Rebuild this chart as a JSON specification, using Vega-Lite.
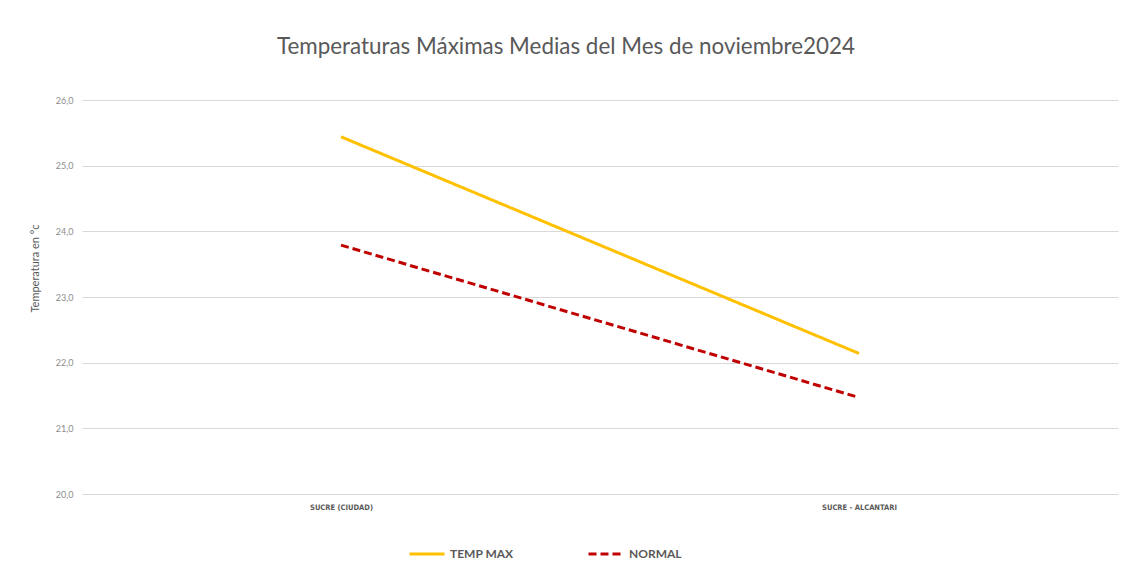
{
  "$schema": "https://vega.github.io/schema/vega-lite/v6.json",
  "width": 1036,
  "height": 394,
  "autosize": {"type": "none"},
  "padding": {"left": 82, "top": 100, "right": 15, "bottom": 75},
  "background": "white",
  "title": {
    "text": "Temperaturas Máximas Medias del Mes de noviembre2024",
    "font": "Lato",
    "fontSize": 22.4,
    "fontWeight": "normal",
    "color": "#595959",
    "anchor": "middle",
    "dx": -34,
    "offset": 38
  },
  "data": {
    "values": [
      {"estacion": "SUCRE (CIUDAD)", "serie": "TEMP MAX", "valor": 25.44},
      {"estacion": "SUCRE - ALCANTARI", "serie": "TEMP MAX", "valor": 22.14},
      {"estacion": "SUCRE (CIUDAD)", "serie": "NORMAL", "valor": 23.79},
      {"estacion": "SUCRE - ALCANTARI", "serie": "NORMAL", "valor": 21.47}
    ]
  },
  "mark": {"type": "line", "strokeWidth": 3, "strokeCap": "butt"},
  "encoding": {
    "x": {
      "field": "estacion",
      "type": "nominal",
      "sort": null,
      "scale": {"type": "point", "padding": 0.5},
      "axis": {
        "title": null,
        "labelAngle": 0,
        "domain": false,
        "ticks": false,
        "grid": false,
        "labelFont": "DejaVu Sans Condensed",
        "labelFontSize": 7.5,
        "labelFontWeight": "bold",
        "labelColor": "#595959",
        "labelPadding": 9
      }
    },
    "y": {
      "field": "valor",
      "type": "quantitative",
      "scale": {"domain": [20, 26], "nice": false, "zero": false},
      "axis": {
        "title": "Temperatura en °c",
        "titleFont": "Lato",
        "titleFontSize": 11,
        "titleFontWeight": "normal",
        "titleColor": "#595959",
        "titleX": -53,
        "titleY": 168,
        "titleAngle": -90,
        "titleAlign": "center",
        "titleBaseline": "top",
        "values": [20, 21, 22, 23, 24, 25, 26],
        "format": ".1f",
        "labelFont": "Lato",
        "labelFontSize": 9,
        "labelColor": "#8c8c8c",
        "labelPadding": 9,
        "domain": false,
        "ticks": false,
        "grid": true,
        "gridColor": "#d9d9d9",
        "gridWidth": 1
      }
    },
    "color": {
      "field": "serie",
      "type": "nominal",
      "scale": {"domain": ["TEMP MAX", "NORMAL"], "range": ["#FFC000", "#C00000"]},
      "legend": {
        "title": null,
        "orient": "none",
        "direction": "horizontal",
        "legendX": 326,
        "legendY": 435,
        "symbolType": "stroke",
        "symbolSize": 1225,
        "symbolStrokeWidth": 3,
        "columnPadding": 68,
        "labelFont": "Lato",
        "labelFontSize": 12,
        "labelFontWeight": "bold",
        "labelColor": "#595959",
        "labelOffset": 4
      }
    },
    "strokeDash": {
      "field": "serie",
      "type": "nominal",
      "scale": {"domain": ["TEMP MAX", "NORMAL"], "range": [[1, 0], [8, 4]]},
      "legend": {
        "title": null,
        "orient": "none",
        "direction": "horizontal",
        "legendX": 326,
        "legendY": 435,
        "symbolType": "stroke",
        "symbolSize": 1225,
        "symbolStrokeWidth": 3,
        "columnPadding": 68,
        "labelFont": "Lato",
        "labelFontSize": 12,
        "labelFontWeight": "bold",
        "labelColor": "#595959",
        "labelOffset": 4
      }
    }
  },
  "config": {
    "view": {"stroke": null},
    "locale": {
      "number": {"decimal": ",", "thousands": ".", "grouping": [3], "currency": ["", " €"]}
    }
  }
}
